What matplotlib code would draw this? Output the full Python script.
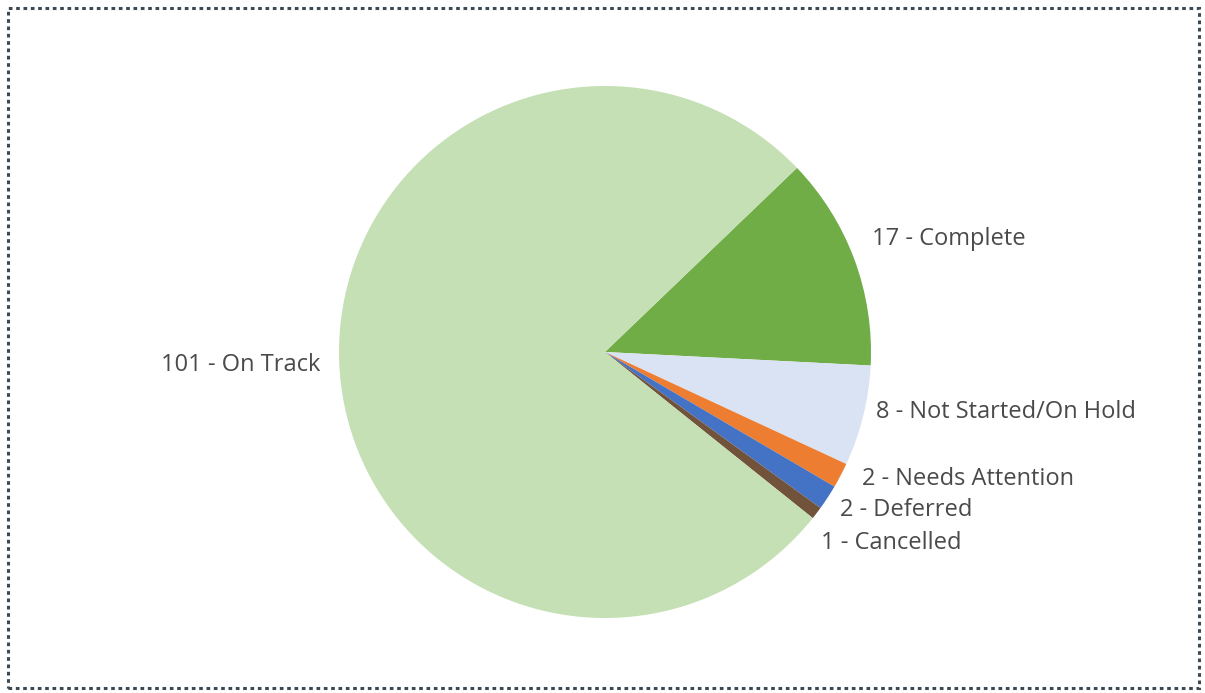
import matplotlib
matplotlib.use("Agg")
import matplotlib.pyplot as plt
from matplotlib.patches import Rectangle

# data
labels = ["Complete", "Not Started/On Hold", "Needs Attention", "Deferred", "Cancelled", "On Track"]
counts = [17, 8, 2, 2, 1, 101]
colors = ["#70AD47", "#DAE3F3", "#ED7D31", "#4472C4", "#70533A", "#C5E0B4"]

plt.rcParams['font.family'] = ['Open Sans', 'DejaVu Sans']

W, H = 1205, 693
fig = plt.figure(figsize=(W / 100, H / 100), dpi=100)

# pie geometry in pixels
cx, cy, r = 605, 352, 266
ax = fig.add_axes([(cx - r) / W, (H - cy - r) / H, 2 * r / W, 2 * r / H])

texts_lbl = [f"{c} - {l}" for c, l in zip(counts, labels)]
wedges, texts = ax.pie(counts, labels=texts_lbl, colors=colors, startangle=43.8,
                       counterclock=False, labeldistance=1.07,
                       wedgeprops=dict(linewidth=0),
                       textprops=dict(fontsize=17, color="#4a4a4a"))
ax.set_xlim(-1, 1)
ax.set_ylim(-1, 1)
ax.set_aspect("equal")

# nudge labels (pixels) to where the original put them
nudges = [(0, 14), (-5, 8), (5, 5), (-3, -2), (-11, -19), (0, 0)]
for t, (dx, dy) in zip(texts, nudges):
    x, y = t.get_position()
    t.set_position((x + dx / r, y + dy / r))

# dotted border around the card
fig.patches.append(Rectangle((8 / W, 5 / H), (W - 14) / W, (H - 13) / H,
                             transform=fig.transFigure, fill=False,
                             edgecolor="#3B4A55", linewidth=2.2,
                             linestyle=(0, (1.2, 1.2))))

fig.savefig("out.png", dpi=100)
